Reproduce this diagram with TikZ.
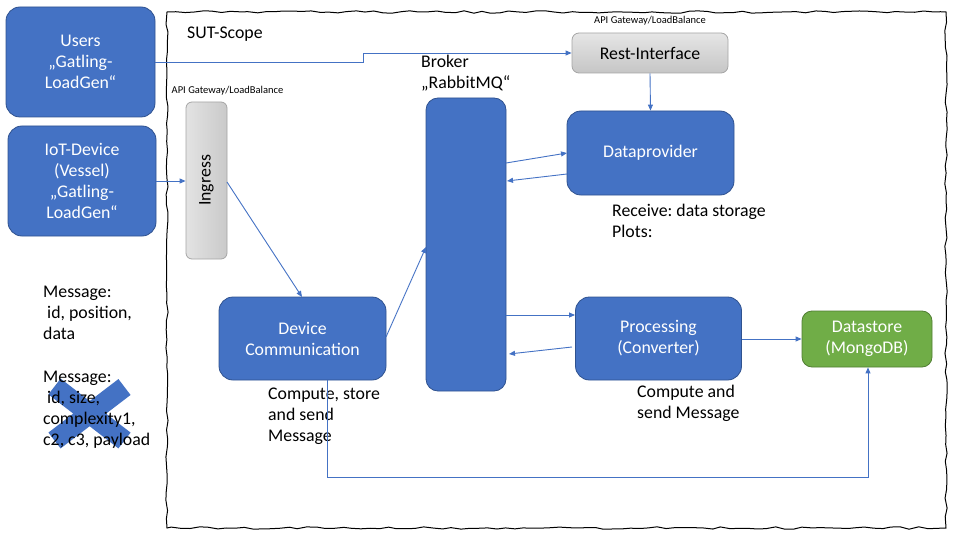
\documentclass[tikz,border=0pt]{standalone}
\usepackage{fontspec}
\setmainfont{Carlito}
\frenchspacing
\usetikzlibrary{arrows.meta,decorations.pathmorphing}
\definecolor{bluefill}{HTML}{4472C4}
\definecolor{blueedge}{HTML}{2F528F}
\definecolor{greenfill}{HTML}{70AD47}
\definecolor{greenedge}{HTML}{507E32}
\definecolor{grayedge}{HTML}{A5A5A5}
\tikzset{
  mainfont/.style={font=\fontsize{17.8}{21}\selectfont},
  bluebox/.style={draw=blueedge, fill=bluefill, rounded corners=14pt, text=white, align=center, mainfont, line width=0.8pt, inner sep=0pt},
  greenbox/.style={draw=greenedge, fill=greenfill, rounded corners=10pt, text=white, align=center, mainfont, line width=0.8pt, inner sep=0pt},
  graybox/.style={draw=grayedge, top color=gray!20, bottom color=gray!45, rounded corners=7pt, text=black, align=center, mainfont, line width=0.8pt, inner sep=0pt},
  plain/.style={align=left, mainfont, inner sep=0pt, anchor=west},
  tiny/.style={font=\fontsize{10.5}{12}\selectfont, inner sep=0pt},
  conn/.style={draw=bluefill, line width=0.9pt, -{Triangle[length=6pt,width=5pt]}},
}
\begin{document}
\begin{tikzpicture}[x=1pt,y=-1pt]
\useasboundingbox (0,0) rectangle (960,540);
% sketchy frame
\pgfmathsetseed{7}
\draw[line width=1pt, decorate, decoration={random steps, segment length=9pt, amplitude=1.2pt}]
  (167,12) -- (946,12) -- (946,528) -- (167,528) -- cycle;
\node[plain] (sut) at (187,34) {SUT-Scope};

% external boxes
\node[bluebox, minimum width=149pt, minimum height=110pt] (users) at (80.5,62) {Users\\„Gatling-\\LoadGen“};
\node[bluebox, minimum width=148pt, minimum height=110pt] (iot) at (82,181) {IoT-Device\\(Vessel)\\„Gatling-\\LoadGen“};

% ingress
\node[graybox, minimum width=41pt, minimum height=157pt, left color=gray!22, right color=gray!42, rounded corners=6pt] (ingress) at (206.5,180.5) {};
\node[rotate=90, mainfont] (ingtxt) at (ingress.center) {Ingress};
\node[tiny] (apil) at (227.5,91) {API Gateway/LoadBalance};

% rest interface
\node[graybox, minimum width=156pt, minimum height=40pt] (rest) at (650,53) {Rest-Interface};
\node[tiny] (apir) at (650,20.5) {API Gateway/LoadBalance};

% dataprovider
\node[bluebox, minimum width=167pt, minimum height=84pt] (dp) at (650.5,153) {Dataprovider};
\node[plain] (dptxt) at (612,221) {Receive: data storage\\Plots:};

% broker
\node[bluebox, minimum width=80pt, minimum height=293pt, rounded corners=12pt] (broker) at (466,244.5) {};
\node[plain] (brtxt) at (421,73) {Broker\\„RabbitMQ“};

% device communication
\node[bluebox, minimum width=167pt, minimum height=83pt] (dc) at (302.5,338.5) {Device\\Communication};
\node[plain] (dctxt) at (268,416) {Compute, store\\and send\\Message};

% processing
\node[bluebox, minimum width=166pt, minimum height=83pt] (proc) at (658.5,338.5) {Processing\\(Converter)};
\node[plain] (proctxt) at (637,403) {Compute and\\send Message};

% datastore
\node[greenbox, minimum width=130pt, minimum height=56pt] (ds) at (867,339) {Datastore\\(MongoDB)};

% left messages
\node[plain] (msg1) at (43,313) {Message:\\\hspace*{4pt}id, position,\\data};
\draw[bluefill, line width=20pt] (54.5,386.5) -- (124.5,440.5) (124.5,387) -- (54.5,440.5);
\node[plain] (msg2) at (43,409.5) {Message:\\\hspace*{4pt}id, size,\\complexity1,\\c2, c3, payload};

% connectors
\coordinate (u1) at (363,62);
\coordinate (u2) at (363,53);
\draw[conn] (users.east |- 0,62) -- (u1) -- (u2) -- (rest.west |- 0,53);
\draw[conn] (iot.east |- 0,181) -- (ingress.west |- 0,181);
\draw[conn] (rest.south) -- (dp.north);
\draw[conn] (227,182) -- (302,297);
\draw[conn] (386,337) -- (426,247);
\draw[conn] (506,163) -- (567,153);
\draw[conn] (567,174) -- (507,181);
\draw[conn] (506,315) -- (575,315);
\draw[conn] (572,347) -- (509,354);
\draw[conn] (proc.east |- 0,339) -- (ds.west |- 0,339);
\coordinate (d1) at (327,477);
\coordinate (d2) at (868,477);
\draw[conn] (dc.south -| 327,0) -- (d1) -- (d2) -- (ds.south -| 868,0);
\end{tikzpicture}
\end{document}
